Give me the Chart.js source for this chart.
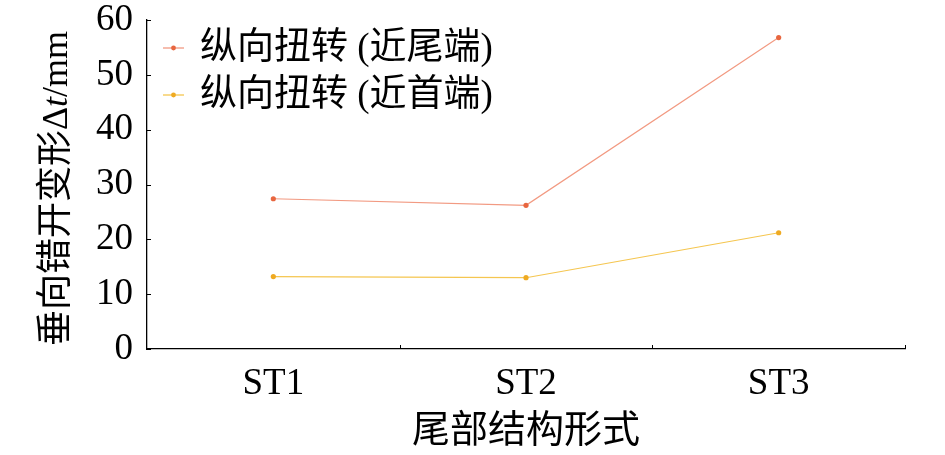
<!DOCTYPE html>
<html>
<head>
<meta charset="utf-8">
<script src="https://cdn.jsdelivr.net/npm/chart.js@4"></script>
<style>
  html, body { margin: 0; padding: 0; background: #fff; }
  #wrap { width: 945px; height: 455px; }
</style>
</head>
<body>
<div id="wrap"><canvas id="myChart"></canvas></div>
<script>
const categories = ['ST1', 'ST2', 'ST3'];
const tailEnd = [27.4, 26.2, 56.8];
const headEnd = [13.2, 13.0, 21.2];
const yTicks = [0, 10, 20, 30, 40, 50, 60];
const seriesNames = ['纵向扭转 (近尾端)', '纵向扭转 (近首端)'];
const yTitleParts = ['垂向错开变形Δ', 't', '/mm'];

const FONT = '"Liberation Serif", "Noto Sans CJK SC", serif';

// inward tick marks, legend inside the plot, y title with italic t
const decorations = {
  id: 'decorations',
  afterDraw(chart) {
    const ctx = chart.ctx;
    const x = chart.scales.x, y = chart.scales.y;
    ctx.save();
    ctx.strokeStyle = '#000';
    ctx.lineWidth = 1;
    yTicks.forEach(v => {
      const py = Math.round(y.getPixelForValue(v)) + 0.5;
      ctx.beginPath(); ctx.moveTo(x.left, py); ctx.lineTo(x.left + 4, py); ctx.stroke();
    });
    for (let i = 1; i <= categories.length; i++) {
      const px = Math.round(x.getPixelForValue(i - 0.5)) + 0.5;
      ctx.beginPath(); ctx.moveTo(px, y.bottom); ctx.lineTo(px, y.bottom - 4); ctx.stroke();
    }

    // legend
    ctx.font = '37px ' + FONT;
    ctx.textBaseline = 'middle';
    ctx.textAlign = 'left';
    chart.data.datasets.forEach((ds, i) => {
      const cy = chart.chartArea.top + 28 + i * 47;
      const lx = chart.chartArea.left + 16;
      ctx.strokeStyle = ds.borderColor;
      ctx.lineWidth = 1.3;
      ctx.beginPath(); ctx.moveTo(lx, cy); ctx.lineTo(lx + 21, cy); ctx.stroke();
      ctx.fillStyle = ds.pointBackgroundColor;
      ctx.beginPath(); ctx.arc(lx + 10.5, cy, 2.4, 0, Math.PI * 2); ctx.fill();
      ctx.fillStyle = '#000';
      ctx.fillText(ds.label, lx + 37, cy + 1);
    });

    // y axis title
    ctx.save();
    ctx.translate(58, (y.top + y.bottom) / 2 + 4);
    ctx.rotate(-Math.PI / 2);
    const fonts = ['36px ' + FONT, 'italic 36px ' + FONT, '36px ' + FONT];
    let total = 0;
    const widths = yTitleParts.map((s, i) => { ctx.font = fonts[i]; const w = ctx.measureText(s).width; total += w; return w; });
    let cx = -total / 2;
    ctx.fillStyle = '#000';
    yTitleParts.forEach((s, i) => {
      ctx.font = fonts[i];
      ctx.fillText(s, cx, 0);
      cx += widths[i];
    });
    ctx.restore();
    ctx.restore();
  }
};

const ctx = document.getElementById('myChart');
new Chart(ctx, {
  type: 'line',
  data: {
    labels: categories,
    datasets: [{
      label: seriesNames[0],
      data: tailEnd,
      borderWidth: 1.2,
      borderColor: '#F29A82',
      pointBackgroundColor: '#E8663F',
      pointBorderWidth: 0,
      pointRadius: 2.6
    }, {
      label: seriesNames[1],
      data: headEnd,
      borderWidth: 1.2,
      borderColor: '#F5C650',
      pointBackgroundColor: '#EFAA22',
      pointBorderWidth: 0,
      pointRadius: 2.6
    }]
  },
  options: {
    responsive: true,
    maintainAspectRatio: false,
    animation: false,
    layout: { padding: { left: 0, right: 40, top: 20, bottom: 0 } },
    plugins: {
      legend: { display: false },
      tooltip: { enabled: false }
    },
    scales: {
      x: {
        offset: true,
        grid: { display: false, offset: true },
        border: { display: true, color: '#000', width: 1.3 },
        ticks: { color: '#000', font: { family: FONT, size: 37 }, padding: 5 },
        title: { display: true, text: '尾部结构形式', color: '#000', font: { family: FONT, size: 38 }, padding: { top: 8, bottom: 0 } },
        afterFit(scale) { scale.height = 106; scale.paddingLeft = 0; scale.paddingRight = 0; }
      },
      y: {
        min: 0,
        max: 60,
        grid: { display: false },
        border: { display: true, color: '#000', width: 1.3 },
        ticks: { stepSize: 10, color: '#000', font: { family: FONT, size: 37 }, padding: 6 },
        afterFit(scale) { scale.width = 147; scale.paddingTop = 0; scale.paddingBottom = 0; }
      }
    }
  },
  plugins: [decorations]
});
</script>
</body>
</html>
